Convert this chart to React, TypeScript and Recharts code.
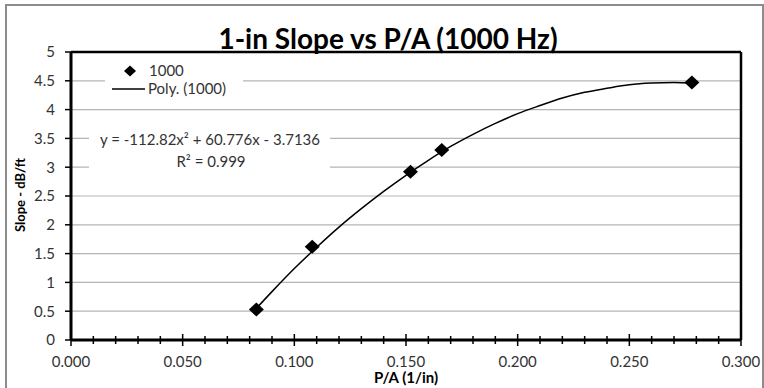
import React from 'react';
import {
  ComposedChart,
  Line,
  Scatter,
  XAxis,
  YAxis,
  CartesianGrid,
  ReferenceLine,
} from 'recharts';

// measured points (1000 Hz)
const pointX = [0.083, 0.108, 0.152, 0.166, 0.278];
const pointY = [0.53, 1.62, 2.92, 3.3, 4.47];

// Poly. (1000) trendline
const trendX = [0.083, 0.09, 0.1, 0.11, 0.12, 0.13, 0.14, 0.15, 0.16, 0.17, 0.18, 0.19, 0.2, 0.21, 0.22, 0.23, 0.24, 0.25, 0.26, 0.27, 0.278];
const trendY = [0.55, 0.84, 1.24, 1.61, 1.96, 2.28, 2.58, 2.86, 3.12, 3.36, 3.57, 3.76, 3.93, 4.07, 4.2, 4.3, 4.37, 4.43, 4.46, 4.47, 4.46];

const xTicks = [0, 0.01, 0.02, 0.03, 0.04, 0.05, 0.06, 0.07, 0.08, 0.09, 0.1, 0.11, 0.12, 0.13, 0.14, 0.15, 0.16, 0.17, 0.18, 0.19, 0.2, 0.21, 0.22, 0.23, 0.24, 0.25, 0.26, 0.27, 0.28, 0.29, 0.3];
const yTicks = [0, 0.5, 1, 1.5, 2, 2.5, 3, 3.5, 4, 4.5, 5];

const points = pointX.map((x, i) => ({ x, y: pointY[i] }));
const trend = trendX.map((x, i) => ({ x, y: trendY[i] }));

const FONT = 'Lato, "Open Sans", sans-serif';
const LABEL = '#333';

const Diamond = (props: any) => {
  const { cx, cy } = props;
  if (cx == null || cy == null) return null;
  return (
    <polygon
      points={`${cx},${cy - 7} ${cx + 7.5},${cy} ${cx},${cy + 7} ${cx - 7.5},${cy}`}
      fill="#000"
    />
  );
};

const XTick = (props: any) => {
  const { x, y, payload } = props;
  const v = payload.value as number;
  const major = Math.abs(v * 20 - Math.round(v * 20)) < 1e-6;
  const h = major ? 6 : 4;
  return (
    <g>
      <line x1={x} x2={x} y1={y - h} y2={y + h} stroke="#000" strokeWidth={1.5} />
      {major && (
        <text x={x} y={y + 27} textAnchor="middle" fontSize={15} fontFamily={FONT} fill={LABEL}>
          {v.toFixed(3)}
        </text>
      )}
    </g>
  );
};

export default function App() {
  return (
    <div style={{ position: 'absolute', left: 0, top: 0, width: 764, height: 388, overflow: 'hidden', background: '#fff' }}>
      {/* outer chart frame */}
      <div style={{ position: 'absolute', left: 5, top: 4, width: 755, height: 420, border: '2px solid #8c8c8c' }} />
      <div style={{ position: 'absolute', left: 0, top: 0 }}>
        <ComposedChart width={764} height={388} margin={{ top: 52, right: 23, bottom: 18, left: 0 }}>
          <CartesianGrid vertical={false} stroke="#b5b5b5" strokeWidth={1.2} />
          <XAxis
            type="number"
            dataKey="x"
            domain={[0, 0.3]}
            ticks={xTicks}
            interval={0}
            height={30}
            tickLine={false}
            tickSize={0}
            tickMargin={0}
            tick={<XTick />}
            axisLine={{ stroke: '#000', strokeWidth: 3 }}
          />
          <YAxis
            type="number"
            domain={[0, 5]}
            ticks={yTicks}
            interval={0}
            width={71}
            tickSize={6}
            tickMargin={10}
            tickLine={{ stroke: '#000', strokeWidth: 1.5 }}
            axisLine={{ stroke: '#000', strokeWidth: 3 }}
            tick={{ fontSize: 15, fontFamily: FONT, fill: LABEL }}
          />
          <ReferenceLine y={5} stroke="#000" strokeWidth={2.5} />
          <ReferenceLine x={0.3} stroke="#000" strokeWidth={2.5} />
          <Line
            data={trend}
            dataKey="y"
            type="monotone"
            stroke="#000"
            strokeWidth={1.5}
            dot={false}
            isAnimationActive={false}
          />
          <Scatter data={points} dataKey="y" fill="#000" shape={<Diamond />} isAnimationActive={false} />
        </ComposedChart>
      </div>
      {/* title, axis titles, legend, trendline label */}
      <svg width={764} height={388} style={{ position: 'absolute', left: 0, top: 0, pointerEvents: 'none' }}>
        <text x={388} y={49} textAnchor="middle" fontSize={28} fontWeight="bold" fontFamily={FONT} fill="#000">
          1-in Slope vs P/A (1000 Hz)
        </text>
        <text
          transform="translate(25,195) rotate(-90)"
          textAnchor="middle"
          fontSize={13}
          fontWeight="bold"
          fontFamily={FONT}
          fill="#000"
        >
          Slope - dB/ft
        </text>
        <text x={406} y={383} textAnchor="middle" fontSize={15} fontWeight="bold" fontFamily={FONT} fill="#000">
          P/A (1/in)
        </text>

        <rect x={105} y={60} width={138} height={42} fill="#fff" />
        <polygon points="130,65.5 136,71 130,76.5 124,71" fill="#000" />
        <text x={149} y={76} fontSize={15} fontFamily={FONT} fill={LABEL}>1000</text>
        <line x1={112} x2={145} y1={89} y2={89} stroke="#000" strokeWidth={1.5} />
        <text x={148} y={94} fontSize={15} fontFamily={FONT} fill={LABEL}>Poly. (1000)</text>

        <rect x={89} y={126} width={241} height={48} fill="#fff" />
        <text x={210} y={145} textAnchor="middle" fontSize={15} fontFamily={FONT} fill={LABEL}>
          y = -112.82x² + 60.776x - 3.7136
        </text>
        <text x={211} y={167} textAnchor="middle" fontSize={15} fontFamily={FONT} fill={LABEL}>
          R² = 0.999
        </text>
      </svg>
    </div>
  );
}
